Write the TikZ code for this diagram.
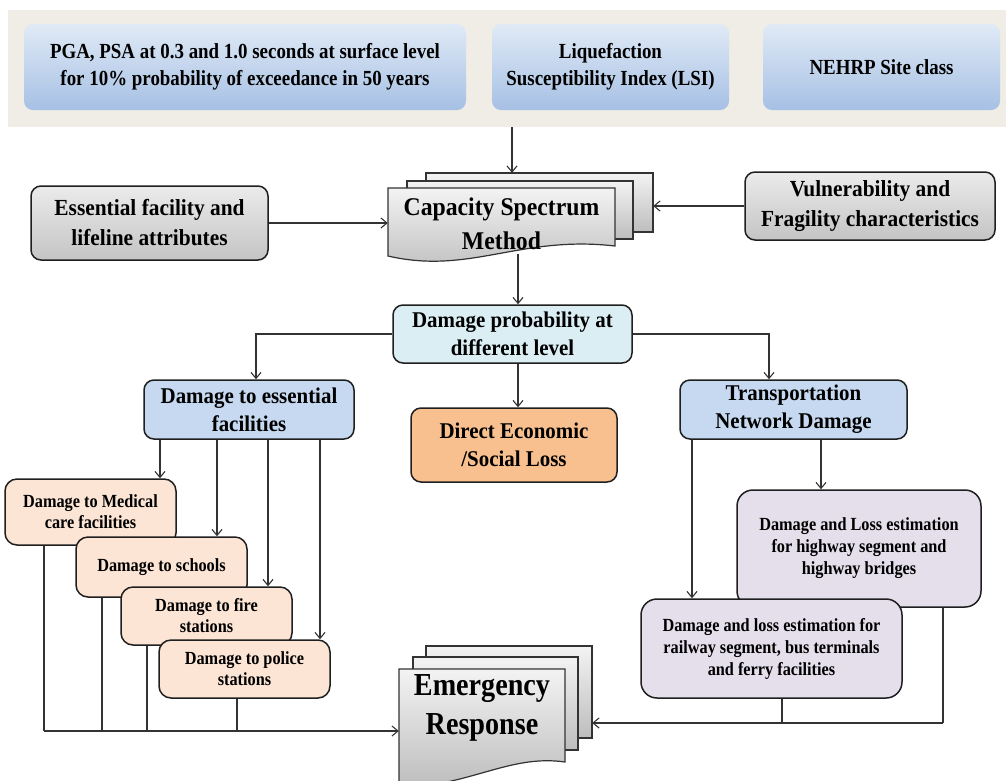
\documentclass[tikz,border=0pt]{standalone}
\usepackage{fontspec}
\setmainfont{Liberation Serif}
\newfontfamily\fA[FakeStretch=0.88]{Liberation Serif}
\newfontfamily\fB[FakeStretch=0.93]{Liberation Serif}
\usetikzlibrary{arrows.meta}
\definecolor{bandc}{HTML}{EFEDE5}
\definecolor{topA}{HTML}{E0EAF6}
\definecolor{topB}{HTML}{A6C0E4}
\definecolor{grayA}{HTML}{EBEBEB}
\definecolor{grayB}{HTML}{C4C4C4}
\definecolor{sheetA}{HTML}{F3F3F3}
\definecolor{sheetB}{HTML}{BDBDBD}
\definecolor{probC}{HTML}{DBEEF4}
\definecolor{blueC}{HTML}{C6D9F0}
\definecolor{orangeC}{HTML}{F8C08F}
\definecolor{peachC}{HTML}{FCE5D5}
\definecolor{lavC}{HTML}{E4DFEB}
\tikzset{
  bx/.style={draw=black!88, line width=1.5pt, rounded corners=10pt, align=center, inner sep=0pt},
  topbx/.style={rounded corners=9pt, top color=topA, bottom color=topB, align=center, inner sep=0pt, font=\fA\bfseries\fontsize{21.5}{27}\selectfont},
  graybx/.style={bx, top color=grayA, bottom color=grayB, font=\fB\bfseries\fontsize{23}{30}\selectfont},
  midbx/.style={bx, font=\fB\bfseries\fontsize{22.5}{28}\selectfont},
  smallbx/.style={bx, rounded corners=12pt, font=\fA\bfseries\fontsize{18.5}{21}\selectfont},
  lavbx/.style={bx, fill=lavC, rounded corners=16pt, font=\fA\bfseries\fontsize{18.5}{22}\selectfont},
  sheet/.style={draw=black!80, line width=1.2pt, top color=sheetA, bottom color=sheetB},
  conn/.style={draw=black!80, line width=1.1pt},
  arr/.style={conn, -{Straight Barb[length=6pt,width=10pt]}},
}
\begin{document}
\begin{tikzpicture}[x=1pt,y=-1pt]
\useasboundingbox (0,0) rectangle (1006,780);
\fill[white] (0,0) rectangle (1006,780);

% top band
\node[fill=bandc, minimum width=998pt, minimum height=117pt, inner sep=0pt] (band) at (507,68.5) {};
\node[topbx, minimum width=442pt, minimum height=86pt] (pga) at (245,67) {PGA, PSA at 0.3 and 1.0 seconds at surface level\\for 10\% probability of exceedance in 50 years};
\node[topbx, minimum width=237pt, minimum height=86pt] (lsi) at (610.5,67) {Liquefaction\\Susceptibility Index (LSI)};
\node[topbx, minimum width=237pt, minimum height=86pt] (neh) at (881.5,67) {NEHRP Site class};

% side inputs
\node[graybx, minimum width=237pt, minimum height=74pt] (ess) at (149.5,223) {Essential facility and\\lifeline attributes};
\node[graybx, minimum width=250pt, minimum height=68pt] (vul) at (870,206) {Vulnerability and\\Fragility characteristics};

% capacity spectrum multi-document
\path[sheet] (426,173) rectangle (653,232);
\path[sheet] (407,181) rectangle (633,239);
\path[sheet] (388,188) -- (615,188) -- (615,246) .. controls (520,235) and (470,275) .. (388,256) -- cycle;
\node[font=\fB\bfseries\fontsize{25.5}{34}\selectfont, align=center, minimum width=227pt, minimum height=69pt, inner sep=0pt] (capF) at (501.5,224) {Capacity Spectrum\\Method};
\node[minimum width=227pt, minimum height=59pt, inner sep=0pt] (capB) at (539.5,202.5) {};

% middle level
\node[midbx, fill=probC, minimum width=239pt, minimum height=58pt] (prob) at (512.5,334) {Damage probability at\\different level};
\node[midbx, fill=blueC, minimum width=210pt, minimum height=59pt] (esf) at (249,409.5) {Damage to essential\\facilities};
\node[midbx, fill=orangeC, minimum width=206pt, minimum height=74pt] (dir) at (514,445) {Direct Economic\\/Social Loss};
\node[midbx, fill=blueC, minimum width=227pt, minimum height=59pt] (trn) at (793.5,409.5) {Transportation\\Network Damage};

% essential facilities cascade
\node[smallbx, fill=peachC, minimum width=171pt, minimum height=66pt] (med) at (90.5,512) {Damage to Medical\\care facilities};
\node[smallbx, fill=peachC, minimum width=171pt, minimum height=60pt] (sch) at (161.5,567) {Damage to schools};
\node[smallbx, fill=peachC, minimum width=171pt, minimum height=58pt] (fir) at (206.5,616) {Damage to fire\\stations};
\node[smallbx, fill=peachC, minimum width=171pt, minimum height=58pt] (pol) at (244.5,669) {Damage to police\\stations};

% transportation
\node[lavbx, minimum width=244pt, minimum height=117pt] (hwy) at (859,548.5) {Damage and Loss estimation\\for highway segment and\\highway bridges};
\node[lavbx, minimum width=261pt, minimum height=99pt] (rail) at (771.5,648.5) {Damage and loss estimation for\\railway segment, bus terminals\\and ferry facilities};

% emergency response multi-document
\path[sheet] (426,646) rectangle (592,738);
\path[sheet] (413,657) rectangle (578,750);
\path[sheet] (399,669) -- (565,669) -- (565,762) .. controls (510,754) and (470,786) .. (399,788) -- cycle;
\node[font=\fA\bfseries\fontsize{32}{39}\selectfont, align=center, minimum width=166pt, inner sep=0pt] (emF) at (482,708) {Emergency\\Response};
\node[minimum width=166pt, minimum height=92pt, inner sep=0pt] (emB) at (509,692) {};

% connectors top
\coordinate (tin) at (512,0);
\draw[arr] (band.south -| tin) -- (capB.north -| tin);
\draw[arr] (ess.east) -- (ess.east -| capF.west);
\draw[arr] (vul.west) -- (vul.west -| capB.east);
\coordinate (mx) at (518,254);
\draw[arr] (mx) -- (prob.north -| mx);
\draw[arr] (prob.south -| mx) -- (dir.north -| mx);
\draw[arr] (prob.west) -| ([xshift=7pt]esf.north);
\draw[arr] (prob.east) -| ([xshift=-24.5pt]trn.north);

% essential facility fan-out
\coordinate (c1) at (160,0);
\coordinate (c2) at (217,0);
\coordinate (c3) at (268,0);
\coordinate (c4) at (320,0);
\draw[arr] (esf.south -| c1) -- (med.north -| c1);
\draw[arr] (esf.south -| c2) -- (sch.north -| c2);
\draw[arr] (esf.south -| c3) -- (fir.north -| c3);
\draw[arr] (esf.south -| c4) -- (pol.north -| c4);

% collector to emergency response (left)
\coordinate (bl) at (0,731);
\coordinate (b1) at (44,0);
\coordinate (b2) at (102,0);
\coordinate (b3) at (147,0);
\coordinate (b4) at (237,0);
\draw[conn] (med.south -| b1) -- (bl -| b1);
\draw[conn] (sch.south -| b2) -- (bl -| b2);
\draw[conn] (fir.south -| b3) -- (bl -| b3);
\draw[conn] (pol.south -| b4) -- (bl -| b4);
\draw[arr] (bl -| b1) -- (bl -| emF.west);

% transportation fan-out
\coordinate (t1) at (692,0);
\coordinate (t2) at (821,0);
\draw[arr] (trn.south -| t1) -- (rail.north -| t1);
\draw[arr] (trn.south -| t2) -- (hwy.north -| t2);

% collector to emergency response (right)
\coordinate (br) at (0,723);
\coordinate (r1) at (782,0);
\coordinate (r2) at (943,0);
\draw[conn] (rail.south -| r1) -- (br -| r1);
\draw[conn] (hwy.south -| r2) -- (br -| r2);
\draw[arr] (br -| r2) -- (br -| emB.east);
\end{tikzpicture}
\end{document}
